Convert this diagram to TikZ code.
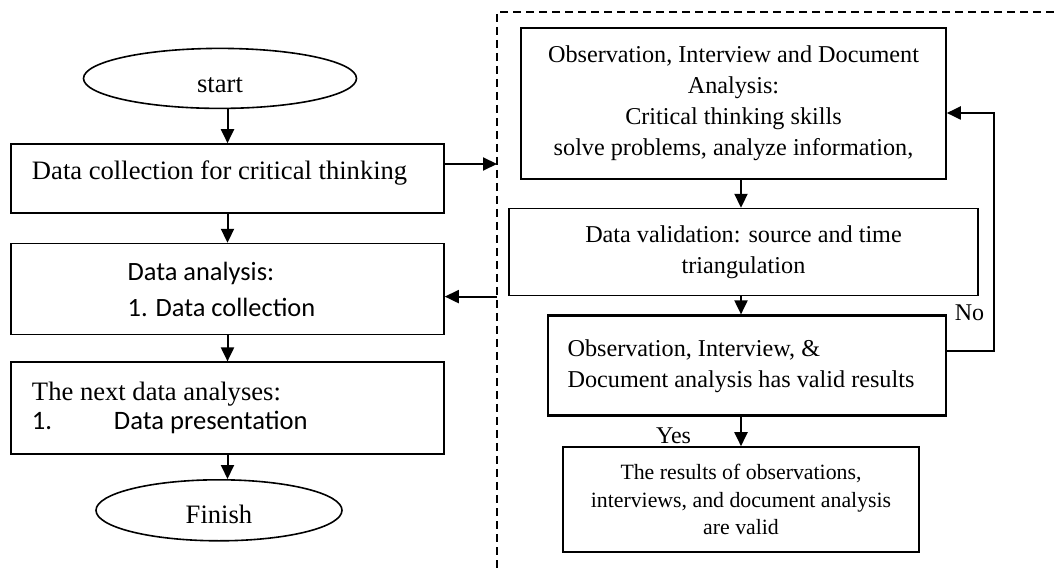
\documentclass[tikz,border=0pt]{standalone}
\usepackage{fontspec}
\setmainfont{Liberation Serif}
\newfontfamily\calibri{Carlito}
\usetikzlibrary{arrows.meta,positioning,shapes.geometric}
\tikzset{
  every node/.style={font=\fontsize{13.3}{15.5}\selectfont},
  box/.style={draw=black, line width=0.8pt, fill=white, align=flush center, inner xsep=8pt, inner ysep=3pt},
  leftbox/.style={box, minimum width=216.5pt, text width=195.5pt, align=flush left, inner xsep=10.5pt},
  rightbox/.style={box, font=\fontsize{12.1}{15.5}\selectfont},
  terminal/.style={draw=black, fill=white, ellipse, line width=0.8pt, inner sep=0pt, text depth=0pt},
  arrow/.style={-{Triangle[length=7pt,width=6.5pt]}, line width=1pt, draw=black},
  frameline/.style={line width=0.7pt, dash pattern=on 4pt off 2.5pt},
  smalllabel/.style={inner sep=0pt, font=\fontsize{12}{14}\selectfont},
}
\begin{document}
\begin{tikzpicture}[x=1pt, y=1pt, node distance=14pt]
\useasboundingbox (0,0) rectangle (527,-285.5);
\coordinate (frtl) at (248.5,-6);
\draw[frameline] (527,-6) -- (frtl) -- (248.5,-285.5);
\node[leftbox, minimum height=34.5pt, text height=10pt, text depth=8.5pt] (b1) at (113.75,-89.25) {Data collection for critical thinking};
\node[terminal, above=17pt of b1, xshift=-3.75pt, minimum width=136.5pt, minimum height=30pt, text height=14pt] (start) {start};
\node[box, below=14.5pt of b1, minimum width=216.5pt, minimum height=45.5pt, align=flush left, font=\calibri\fontsize{13.2}{18}\selectfont] (b2) {\hspace*{-6pt}Data analysis:\\\hspace*{-6pt}1. Data collection};
\node[leftbox, below=13pt of b2, minimum height=46pt, font=\fontsize{13.3}{14.5}\selectfont] (b3) {The next data analyses:\\{\calibri\makebox[41pt][l]{1.}Data presentation}};
\node[terminal, below=12pt of b3, xshift=-4.25pt, minimum width=123pt, minimum height=30.5pt, text height=13pt] (fin) {Finish};
\node[rightbox, minimum width=212.5pt, minimum height=75.5pt] (r1) at (366.75,-51.75) {Observation, Interview and Document\\Analysis:\\Critical thinking skills\\solve problems, analyze information,};
\node[rightbox, below=14pt of r1, xshift=5pt, minimum width=234.5pt, minimum height=43.5pt] (r2) {Data validation: source and time\\triangulation};
\node[rightbox, below=9pt of r2, xshift=1.75pt, minimum width=199pt, minimum height=50pt, line width=1.4pt, align=flush left] (r3) {\hspace*{-6pt}Observation, Interview, \&\\\hspace*{-6pt}Document analysis has valid results};
\node[rightbox, below=14.5pt of r3, xshift=-3pt, minimum width=178pt, minimum height=52.5pt, font=\fontsize{10.9}{13.75}\selectfont] (r4) {The results of observations,\\interviews, and document analysis\\are valid};
\draw[arrow] (start.south -| b1) -- (b1.north);
\draw[arrow] (b1) -- (b2);
\draw[arrow] (b2) -- (b3);
\draw[arrow] (b3) -- (b3.south |- fin.north);
\coordinate (b1out) at ([yshift=7.25pt]b1.east);
\draw[arrow] (b1out) -- (b1out -| frtl);
\coordinate (b2in) at ([yshift=-3.75pt]b2.east);
\draw[arrow] (b2in -| frtl) -- (b2in);
\draw[arrow] (r1.south -| r4) -- (r2.north -| r4);
\draw[arrow] (r2.south -| r4) -- (r3.north -| r4);
\draw[arrow] (r3.south -| r4) -- node[smalllabel, left=24.5pt, yshift=-2pt] (yes) {Yes} (r4.north);
\draw[arrow] ([yshift=7.5pt]r3.east) -- ++(23.5pt,0) |- ([yshift=-4.75pt]r1.east);
\node[smalllabel, anchor=west] (no) at ([xshift=3.5pt,yshift=1pt]r3.north east) {No};
\end{tikzpicture}
\end{document}
